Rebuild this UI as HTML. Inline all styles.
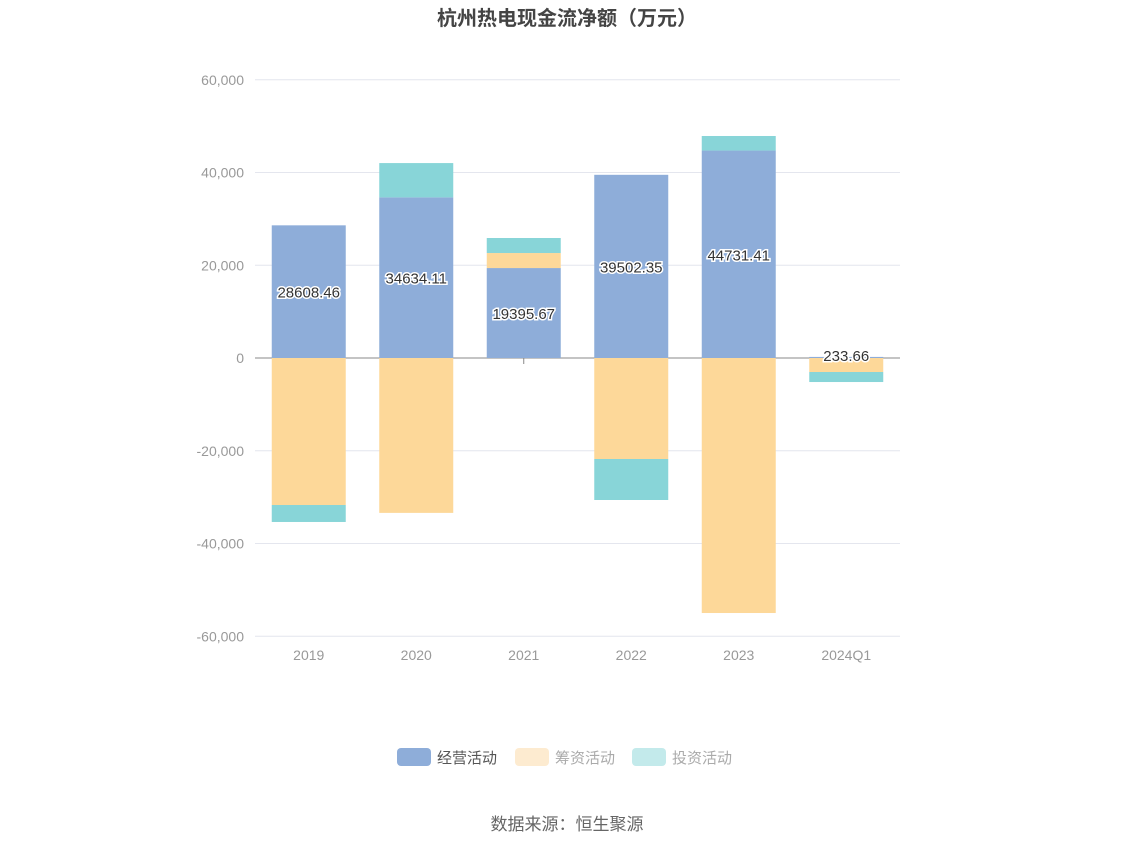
<!DOCTYPE html>
<html><head><meta charset="utf-8"><style>
body{margin:0;background:#fff;font-family:"Liberation Sans","Noto Sans CJK SC",sans-serif;}
</style></head><body>
<svg id="c" width="1134" height="849" xmlns="http://www.w3.org/2000/svg" style="font-family:'Liberation Sans','Noto Sans CJK SC',sans-serif">
<text x="567" y="25" text-anchor="middle" font-size="20" font-weight="bold" fill="#444">杭州热电现金流净额（万元）</text>
<g id="grid"></g><g id="bars"></g><g id="labels"></g>
<g>
<g><rect x="397" y="748" width="34" height="18" rx="4" fill="#8eadd9"/><text x="437" y="763" font-size="15" fill="#555">经营活动</text></g>
<g><rect x="515" y="748" width="34" height="18" rx="4" fill="#fdebd0"/><text x="555" y="763" font-size="15" fill="#aaa">筹资活动</text></g>
<g><rect x="632" y="748" width="34" height="18" rx="4" fill="#c3eaeb"/><text x="672" y="763" font-size="15" fill="#aaa">投资活动</text></g>
</g>
<text x="567" y="830" text-anchor="middle" font-size="17" fill="#666">数据来源：恒生聚源</text>
</svg>
<script>
const categories=["2019","2020","2021","2022","2023","2024Q1"];
const operating=[28608.46,34634.11,19395.67,39502.35,44731.41,233.66];
const financing=[-31700,-33400,3240,-21780,-54990,-3020];
const investing=[-3660,7400,3240,-8840,3140,-2160];
const yTicks=[60000,40000,20000,0,-20000,-40000,-60000];
const yTickLabels=["60,000","40,000","20,000","0","-20,000","-40,000","-60,000"];
const NS="http://www.w3.org/2000/svg";
const x0=255,x1=900,y0=358,pxPer=92.75/20000;
const y=v=>y0-v*pxPer;
const bw=(x1-x0)/categories.length;
const xc=i=>x0+bw*(i+0.5);
function mk(t,a,p){const e=document.createElementNS(NS,t);for(const k in a)e.setAttribute(k,a[k]);p.appendChild(e);return e;}
const g=document.getElementById('grid'),b=document.getElementById('bars'),l=document.getElementById('labels');
yTicks.forEach((v,i)=>{
 const ln=mk('line',{x1:x0,x2:x1,y1:y(v),y2:y(v),stroke:v===0?'#888':'#e4e6ee','stroke-width':1},g);
 
 
 const t=mk('text',{x:244,y:y(v)+5,'text-anchor':'end','font-size':14,fill:'#999'},g);
 t.textContent=yTickLabels[i];
 
 
});
categories.forEach((c,i)=>{
 const t=mk('text',{x:xc(i),y:660,'text-anchor':'middle','font-size':14,fill:'#999'},g);
 t.textContent=c;
 
 
});
mk('line',{x1:xc(2),x2:xc(2),y1:y0,y2:y0+6,stroke:'#888'},g);
const series=[[operating,'#8eadd9','operating'],[financing,'#fdd899','financing'],[investing,'#88d5d8','investing']];
const pos=categories.map(()=>0),neg=categories.map(()=>0);
series.forEach(([arr,col,nm])=>{
 arr.forEach((v,i)=>{
  let a,bb;
  if(v>=0){a=pos[i];bb=a+v;pos[i]=bb;}else{a=neg[i];bb=a+v;neg[i]=bb;}
  const top=Math.min(y(a),y(bb)),h=Math.abs(y(a)-y(bb));
  const r=mk('rect',{x:xc(i)-37,y:top,width:74,height:Math.max(h,0.5),fill:col},b);
  
  
 });
});
operating.forEach((v,i)=>{
 const ly=v<2000?y(v)+4:(y(0)+y(v))/2+6;
 const t=mk('text',{x:xc(i),y:ly,'text-anchor':'middle','font-size':15,fill:'#333',stroke:'#fff','stroke-width':3,'paint-order':'stroke'},l);
 t.textContent=v.toFixed(2);
 
 
});
</script>
</body></html>
